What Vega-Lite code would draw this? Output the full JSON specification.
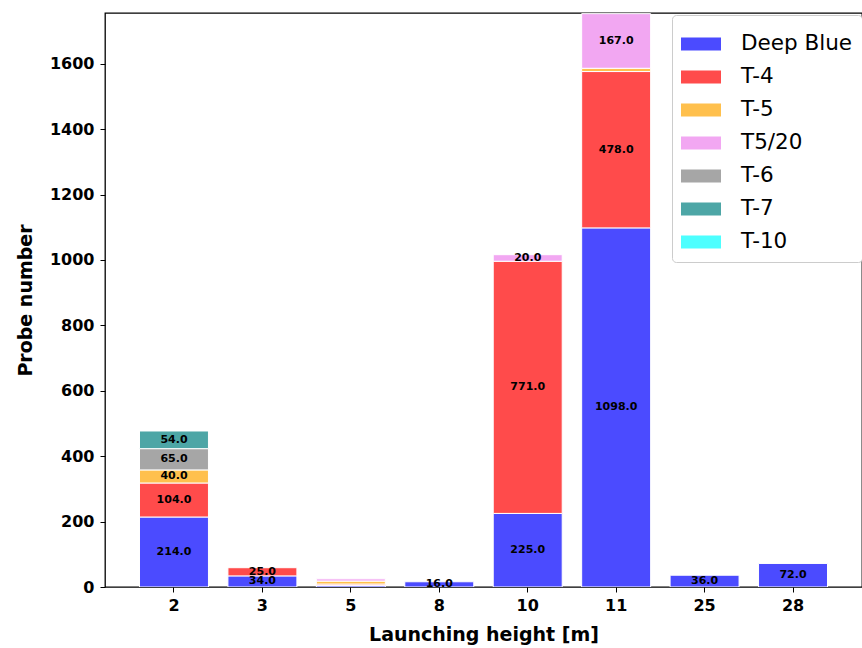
{
  "$schema": "https://vega.github.io/schema/vega-lite/v6.json",
  "autosize": {"type": "none"},
  "padding": {"left": 105, "top": 13, "right": 0, "bottom": 61},
  "width": 757,
  "height": 574,
  "background": "white",
  "config": {
    "font": "DejaVu Sans",
    "view": {"stroke": "black", "strokeWidth": 1.3},
    "axis": {"grid": false, "domain": false, "tickColor": "black", "tickSize": 5, "labelColor": "black", "labelFont": "DejaVu Sans", "labelFontWeight": "bold", "labelFontSize": 16, "titleFont": "DejaVu Sans", "titleFontWeight": "bold", "titleFontSize": 19, "titleColor": "black"}
  },
  "data": {
    "values": [
      {"h": "2", "s": "Deep Blue", "k": 1, "n": 214},
      {"h": "2", "s": "T-4", "k": 2, "n": 104},
      {"h": "2", "s": "T-5", "k": 3, "n": 40},
      {"h": "2", "s": "T-6", "k": 5, "n": 65},
      {"h": "2", "s": "T-7", "k": 6, "n": 54},
      {"h": "3", "s": "Deep Blue", "k": 1, "n": 34},
      {"h": "3", "s": "T-4", "k": 2, "n": 25},
      {"h": "5", "s": "Deep Blue", "k": 1, "n": 5},
      {"h": "5", "s": "T-4", "k": 2, "n": 4},
      {"h": "5", "s": "T-5", "k": 3, "n": 9},
      {"h": "5", "s": "T5/20", "k": 4, "n": 7},
      {"h": "8", "s": "Deep Blue", "k": 1, "n": 16},
      {"h": "10", "s": "Deep Blue", "k": 1, "n": 225},
      {"h": "10", "s": "T-4", "k": 2, "n": 771},
      {"h": "10", "s": "T5/20", "k": 4, "n": 20},
      {"h": "11", "s": "Deep Blue", "k": 1, "n": 1098},
      {"h": "11", "s": "T-4", "k": 2, "n": 478},
      {"h": "11", "s": "T-5", "k": 3, "n": 10},
      {"h": "11", "s": "T5/20", "k": 4, "n": 167},
      {"h": "25", "s": "Deep Blue", "k": 1, "n": 36},
      {"h": "28", "s": "Deep Blue", "k": 1, "n": 72}
    ]
  },
  "transform": [
    {"stack": "n", "groupby": ["h"], "sort": [{"field": "k", "order": "ascending"}], "as": ["y0", "y1"]},
    {"calculate": "(datum.y0 + datum.y1) / 2", "as": "ym"}
  ],
  "encoding": {
    "x": {"field": "h", "type": "ordinal", "sort": ["2", "3", "5", "8", "10", "11", "25", "28"],
      "scale": {"paddingInner": 0.22, "paddingOuter": 0.39},
      "axis": {"labelAngle": 0, "title": "Launching height [m]", "titlePadding": 12, "labelPadding": 5}}
  },
  "layer": [
    {
      "mark": {"type": "bar", "stroke": "white", "strokeWidth": 1, "clip": true},
      "encoding": {
        "y": {"field": "y0", "type": "quantitative", "scale": {"domain": [0, 1755], "nice": false},
          "axis": {"title": "Probe number", "format": "d", "values": [0, 200, 400, 600, 800, 1000, 1200, 1400, 1600], "titlePadding": 14, "labelPadding": 6}},
        "y2": {"field": "y1"},
        "color": {"field": "s", "type": "nominal",
          "scale": {"domain": ["Deep Blue", "T-4", "T-5", "T5/20", "T-6", "T-7", "T-10"],
            "range": ["#4b4bff", "#ff4b4b", "#ffc04d", "#f2a7f2", "#a6a6a6", "#4da6a6", "#4dffff"]},
          "legend": {"title": null, "orient": "none", "legendX": 567, "legendY": 2,
            "fillColor": "white", "strokeColor": "#cccccc", "cornerRadius": 4, "padding": 9,
            "labelFontSize": 21.5, "labelFont": "DejaVu Sans", "labelColor": "black", "labelOffset": 20,
            "symbolType": "M-1,-0.33H1V0.33H-1Z", "symbolSize": 1600, "symbolStrokeWidth": 0, "symbolOpacity": 1,
            "rowPadding": 2}}
      }
    },
    {
      "transform": [{"filter": "datum.n >= 15"}],
      "mark": {"type": "text", "fontWeight": "bold", "fontSize": 11, "color": "black", "baseline": "middle", "clip": true},
      "encoding": {
        "y": {"field": "ym", "type": "quantitative"},
        "text": {"field": "n", "type": "quantitative", "format": ".1f"}
      }
    }
  ]
}
